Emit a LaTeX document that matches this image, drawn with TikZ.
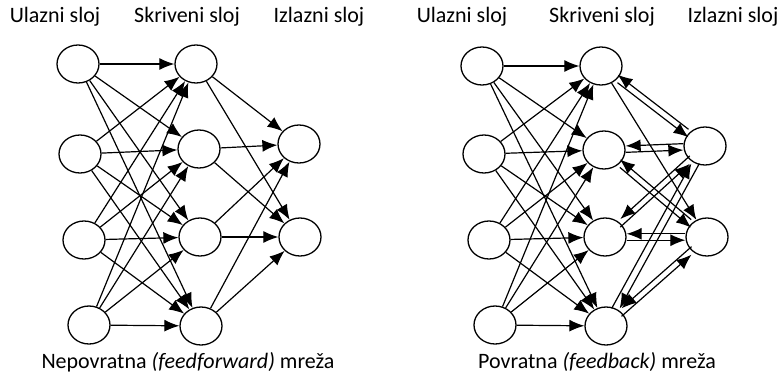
\documentclass[tikz,border=0pt]{standalone}
\usepackage{fontspec}
\setmainfont{Carlito}
\usetikzlibrary{arrows.meta,shapes.geometric}
\begin{document}
\begin{tikzpicture}[x=0.5pt,y=-0.5pt,
		neuron/.style={draw, ellipse, line width=0.65pt, minimum width=21pt, minimum height=19pt, inner sep=0pt},
		edge/.style={-{Latex[length=7.5pt,width=6pt]}, line width=0.6pt},
		title/.style={font=\fontsize{11}{13}\selectfont}]
	\useasboundingbox (0,0) rectangle (780,380);
	% left: feedforward
	\node[neuron] (in1) at (78,64) {};
	\node[neuron] (in2) at (80,154) {};
	\node[neuron] (in3) at (84,240) {};
	\node[neuron] (in4) at (89,325) {};
	\node[neuron] (hid1) at (196,64) {};
	\node[neuron] (hid2) at (199,149) {};
	\node[neuron] (hid3) at (200,237) {};
	\node[neuron] (hid4) at (201,326) {};
	\node[neuron] (out1) at (299,144) {};
	\node[neuron] (out2) at (300,237) {};
	\foreach \i in {1,...,4}
		\foreach \j in {1,...,4}
			\draw[edge] (in\i) -- (hid\j);
	\foreach \j in {1,...,4}
		\foreach \k in {1,2}
			\draw[edge] (hid\j) -- (out\k);
	\node[title] (lin) at (55,17) {Ulazni sloj};
	\node[title] (lhid) at (187,17) {Skriveni sloj};
	\node[title] (lout) at (319,17) {Izlazni sloj};
	\node[title] (lcap) at (188,362) {Nepovratna \textit{(feedforward)} mreža};
	
	% right: feedback
	\node[neuron] (rin1) at (482,66) {};
	\node[neuron] (rin2) at (484,154) {};
	\node[neuron] (rin3) at (489,240) {};
	\node[neuron] (rin4) at (495,325) {};
	\node[neuron] (rhid1) at (601,66) {};
	\node[neuron] (rhid2) at (604,150) {};
	\node[neuron] (rhid3) at (605,237) {};
	\node[neuron] (rhid4) at (606,326) {};
	\node[neuron] (rout1) at (705,146) {};
	\node[neuron] (rout2) at (707,237) {};
	\foreach \i in {1,...,4}
		\foreach \j in {1,...,4}
			\draw[edge] (rin\i) -- (rhid\j);
	\draw[edge] (rhid1) -- (rout2);
	\foreach \j/\k/\s/\d in {1/1/yshift/2, 2/1/yshift/1.6, 2/2/yshift/2, 3/1/yshift/2, 3/2/yshift/1.6, 4/1/xshift/2, 4/2/yshift/2} {
		\draw[edge, transform canvas={\s=-\d pt}] (rhid\j) -- (rout\k);
		\draw[edge, transform canvas={\s=\d pt}] (rout\k) -- (rhid\j);
	}
	\node[title] (rlin) at (462,17) {Ulazni sloj};
	\node[title] (rlhid) at (602,17) {Skriveni sloj};
	\node[title] (rlout) at (733,17) {Izlazni sloj};
	\node[title] (rcap) at (597,362) {Povratna \textit{(feedback)} mreža};
\end{tikzpicture}
\end{document}
